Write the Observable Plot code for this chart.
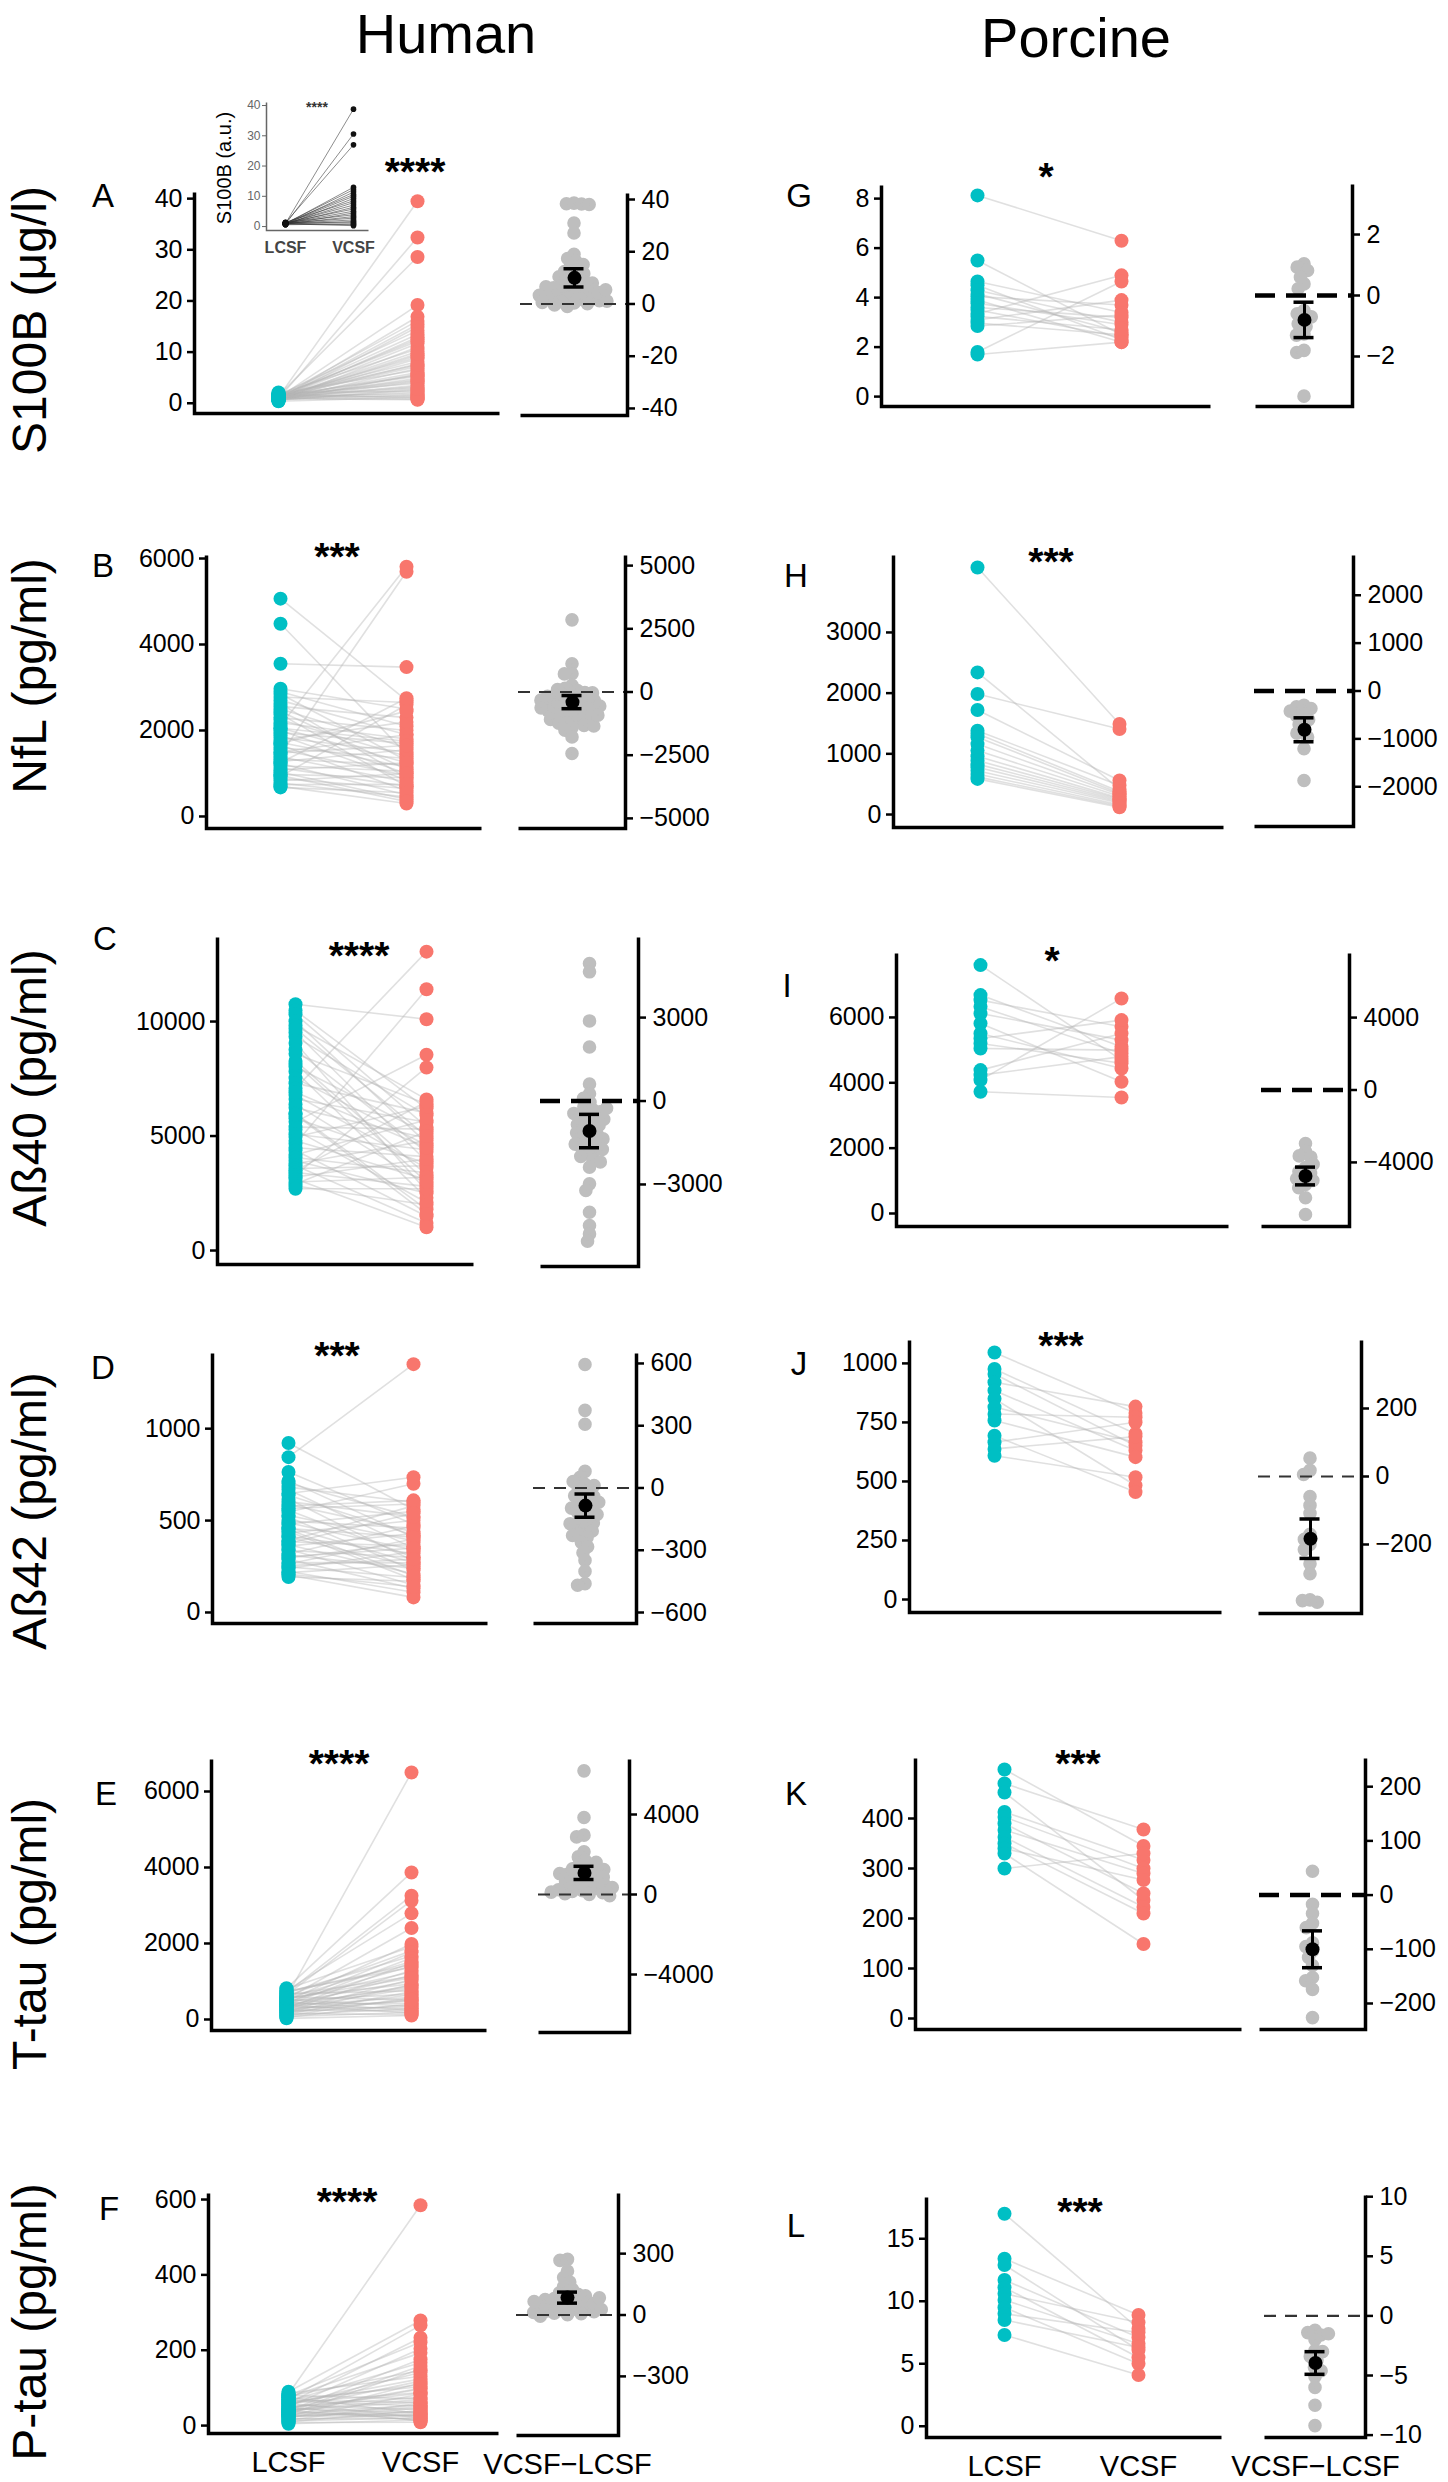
<!DOCTYPE html>
<html><head><meta charset="utf-8">
<script src="https://cdn.jsdelivr.net/npm/d3@7"></script>
<script src="https://cdn.jsdelivr.net/npm/@observablehq/plot@0.6"></script>
<style>
body{margin:0;background:#fff;}
#fig{position:relative;width:1448px;height:2482px;overflow:hidden;background:#fff;font-family:"Liberation Sans",Arial,Helvetica,sans-serif;color:#000;}
.t{position:absolute;white-space:nowrap;line-height:1;transform:translate(-50%,-50%);}
.rot{transform:translate(-50%,-50%) rotate(-90deg);}
.plot{position:absolute;line-height:0;}
</style></head><body><div id="fig"></div><script>
// ---------- categories ----------
const groups = ["LCSF", "VCSF"];
const diffLabel = "VCSF−LCSF";

// ---------- Human S100B (µg/l) ----------
const hS100B_L = [1.2,0.9,1.5,1.1,0.8,1.3,1.0,0.7,1.6,1.2,0.9,1.4,1.0,0.6,1.8,1.1,0.9,1.3,0.8,1.5,1.0,1.2,0.7,1.9,1.1,0.5,1.4,1.0,1.2,0.8,1.6,0.9,1.3,1.1,0.6,2.1,1.0,1.4,0.8,1.2,0.4,1.7,1.0,0.9,1.3,1.1,0.7,1.5,1.0,1.2];
const hS100B_V = [39.5,32.4,28.6,19.2,16.9,16.1,15.4,14.9,14.2,13.5,12.9,12.1,11.7,11.0,10.6,10.1,9.4,9.0,8.7,8.1,7.7,7.2,6.8,6.5,6.0,5.7,5.3,4.9,4.6,4.2,3.9,3.5,3.2,3.0,2.6,2.3,2.1,1.8,1.6,1.4,1.2,1.0,0.8,0.7,5.5,4.4,2.8,7.5,9.7,12.5];
const hS100B_D = [38.6,38.4,38.3,38.1,31.0,27.2,19.0,17.4,16.2,15.1,14.3,13.0,12.4,11.6,11.1,10.4,9.7,9.1,8.4,8.0,7.3,6.9,6.2,5.8,5.1,4.7,4.0,3.6,3.1,2.6,2.2,1.8,1.3,0.9,0.4,0.1,-0.4,-0.9,2.9,4.4,6.6,1.1,3.3,0.6,5.4];
const hS100B_S = [10, 3.5];   // mean, SE
// inset S100B (a.u.)
const inset_L = [1.0,0.8,1.3,0.9,1.1,0.7,1.2,1.0,0.6,1.4,0.9,1.1,0.8,1.2,1.0,0.7,1.3,0.9,1.1,1.0,0.8,1.2,0.6,1.0,0.9];
const inset_V = [38.8,30.6,27.0,13.0,12.2,11.4,10.6,10.0,9.3,8.5,7.9,7.1,6.4,5.8,5.1,4.5,3.9,3.3,2.8,2.2,1.7,1.3,0.9,0.6,0.3];

// ---------- Human NfL (pg/ml) ----------
const hNfL_L = [5066,4484,3552,2970,2900,2850,2780,2700,2620,2560,2500,2440,2380,2300,2250,2180,2120,2060,2000,1950,1890,1830,1780,1720,1660,1600,1550,1500,1440,1390,1330,1280,1230,1180,1130,1080,1030,980,930,880,830,780,740,700,676,1700,2050,1250,950,1480];
const hNfL_V = [2700,1450,3474,2500,2100,1300,2650,1900,900,2300,1600,1100,700,2000,1400,1800,5809,1250,1000,1700,850,1500,2200,1150,600,1350,950,1900,5692,800,1200,1550,500,1050,700,1250,400,900,2600,650,1000,450,750,300,550,2450,1750,2750,350,1650];
const hNfL_D = [2855,1118,724,716,263,142,55,-18,-85,-140,-212,-236,-310,-342,-395,-441,-468,-530,-552,-610,-655,-690,-745,-812,-838,-905,-960,-990,-1062,-1090,-1160,-1215,-1238,-1320,-1345,-1410,-1513,-1776,-2434,96,-35,-171,-322,-628,-915];
const hNfL_S = [-400, 260];

// ---------- Human Aß40 (pg/ml) ----------
const hAb40_L = [10756,10480,10320,10010,9830,9520,9340,9060,8770,8590,8280,8040,7820,7530,7310,7080,6790,6620,6380,6230,5990,5780,5620,5390,5270,5080,4960,4790,4660,4490,4370,4180,4060,3920,3790,3710,3580,3490,3410,3290,3210,3120,2990,2910,2820,2700,6910,8160,9690,5940];
const hAb40_V = [10102,6200,5400,4700,6600,3900,5900,2600,4300,6400,3300,5100,2300,4600,6000,13052,3600,5600,2900,4900,1800,3800,8547,5300,2100,4400,6300,3100,11410,4100,1500,5700,3400,2500,4800,1200,3700,6500,2800,7994,4000,1017,3200,5200,2000,2700,4500,3000,5000,1600];
const hAb40_D = [4946,4646,2880,1944,612,264,95,-48,-210,-305,-388,-512,-590,-683,-795,-870,-1010,-1093,-1187,-1320,-1395,-1480,-1610,-1690,-1785,-1905,-1990,-2110,-2190,-2377,-2977,-3217,-3997,-4477,-4777,-5041,-655,-842,-1145,-1362,-1548,-1740,-446,-262];
const hAb40_S = [-1080, 600];

// ---------- Human Aß42 (pg/ml) ----------
const hAb42_L = [922,845,764,682,668,647,638,617,603,588,579,556,547,528,519,497,488,481,463,457,440,433,415,409,391,385,368,361,344,337,319,312,296,289,271,265,248,241,223,217,204,193,703,716,566,452,377,303,255,208];
const hAb42_V = [560,1351,480,600,350,736,420,280,520,440,610,300,700,390,230,460,340,550,270,410,180,500,320,250,580,360,210,430,150,300,470,240,380,130,270,400,190,330,110,260,82,170,520,410,590,200,540,350,290,140];
const hAb42_D = [595,374,307,80,52,18,3,-14,-33,-41,-62,-78,-88,-107,-118,-136,-149,-168,-177,-196,-207,-224,-238,-262,-283,-312,-349,-402,-461,-469,12,-38,-97,-128,-172,-229,31,-69];
const hAb42_S = [-85, 56];

// ---------- Human T-tau (pg/ml) ----------
const hTtau_L = [587,820,700,650,760,540,480,800,620,420,700,380,560,300,460,740,260,520,350,640,220,440,580,180,400,300,680,140,500,240,360,100,600,280,420,60,200,520,330,120,460,250,80,380,160,30,720,340,550,200];
const hTtau_V = [6500,3870,3257,3126,2793,2408,1988,1915,1806,1762,1671,1615,1528,1490,1407,1372,1289,1251,1166,1131,1052,1013,938,912,843,808,749,731,668,652,587,571,509,493,428,413,362,348,302,287,243,226,184,167,126,105,1446,892,1094,516];
const hTtau_D = [6183,3850,2967,2880,2133,1880,1712,1490,1405,1288,1215,1090,1012,905,815,690,612,488,395,310,195,148,92,45,8,-62,1605,1246,860,642,455,240,1043,352,118];
const hTtau_S = [1080, 330];

// ---------- Human P-tau (pg/ml) ----------
const hPtau_L = [84,90,70,60,80,50,75,40,65,30,55,85,45,25,70,35,60,20,50,80,40,15,65,30,55,10,45,75,25,35,60,18,40,50,8,28,68,38,22,58,12,48,33,78,5,42,26,63,16,36];
const hPtau_V = [585,279,266,233,221,204,193,176,167,150,141,131,118,113,103,97,88,83,75,71,63,59,52,49,42,40,34,32,26,25,20,19,14,12,9,31,61,99,46,124,21,86,54,146,15,69,37,109,29,158];
const hPtau_D = [272,267,215,183,161,139,126,108,101,88,81,69,63,54,49,41,37,29,26,19,16,9,6,1,-6,94,76,57,42,27,12,66,84];
const hPtau_S = [85, 27];

// ---------- Porcine ----------
const pS100B_L = [8.13,5.5,4.65,4.5,4.3,4.15,4.04,3.9,3.77,3.6,3.5,3.35,3.24,3.1,2.97,2.85,1.8,1.7];
const pS100B_V = [6.3,2.5,3.4,2.3,3.0,2.6,3.7,2.2,2.9,3.2,2.4,4.9,2.7,3.9,2.5,3.3,4.65,2.2];
const pS100B_D = [1.04,0.93,0.82,0.38,0.22,-0.49,-0.6,-0.77,-0.93,-1.26,-1.3,-1.8,-1.87,-3.3,-0.7,-1.02,0.6];
const pS100B_S = [-0.8, 0.58];

const pNfL_L = [4070,2342,1986,1722,1382,1330,1273,1160,1053,960,889,830,779,720,669,620,587];
const pNfL_V = [1492,420,1410,560,480,380,350,330,300,270,250,230,210,190,160,140,120];
const pNfL_D = [-300,-330,-365,-474,-520,-600,-822,-880,-962,-1205,-1868,-700,-420];
const pNfL_S = [-810, 250];

const pAb40_L = [7602,6684,6531,6327,6122,5816,5510,5357,5204,5051,4388,4235,4082,3724];
const pAb40_V = [4694,5102,5714,4898,5306,4031,4439,5918,4600,5000,5510,4800,6582,3551];
const pAb40_D = [-2957,-3400,-3640,-3700,-4288,-4500,-4600,-5212,-5400,-5950,-6875,-4100,-4900,-5000];
const pAb40_S = [-4750, 490];

const pAb42_L = [1046,976,955,920,885,850,815,786,758,694,666,638,609];
const pAb42_V = [790,702,651,817,631,483,666,772,603,455,751,690,518];
const pAb42_D = [54,18,6,-59,-85,-108,-170,-185,-200,-215,-257,-286,-363,-365,-370];
const pAb42_S = [-183, 58];

const pTtau_L = [498,470,452,413,403,390,377,363,350,340,330,300];
const pTtau_V = [345,378,237,317,300,250,290,223,210,277,149,330];
const pTtau_D = [44,-17,-34,-52,-60,-88,-103,-115,-152,-158,-174,-226,-95,-130];
const pTtau_S = [-100, 34];

const pPtau_L = [17.0,13.4,12.9,11.7,11.1,10.6,10.1,9.5,9.0,8.5,7.3];
const pPtau_V = [7.8,8.9,6.1,7.1,5.5,8.3,6.6,5.0,7.5,6.3,4.1];
const pPtau_D = [-1.2,-1.4,-1.6,-2.0,-2.9,-3.4,-3.7,-4.3,-4.6,-5.1,-6.0,-7.5,-9.2,-3.0,-1.5];
const pPtau_S = [-3.95, 0.95];

// ---------- text ----------
const rowTitles = ["S100B (μg/l)", "NfL (pg/ml)", "Aß40 (pg/ml)", "Aß42 (pg/ml)", "T-tau (pg/ml)", "P-tau (pg/ml)"];
const colTitles = ["Human", "Porcine"];

// ---------- layout (pixels) ----------
const FONT = '"Liberation Sans", Arial, Helvetica, sans-serif';
const TEAL = "#00BFC4", SALMON = "#F8766D", GREY = "#bebebe";
const fig = document.getElementById("fig");

const panels = [
 {L:hS100B_L,V:hS100B_V,D:hS100B_D,S:hS100B_S,letter:["A",103,195],stars:["****",415,171],
  p:{axis:194,top:192,bottom:413,right:499,xL:278,xV:417,y:[-2,41.2],ticks:[0,10,20,30,40]},
  d:{left:520,axis:627,top:193,bottom:415,y:[-42.7,42.3],ticks:[-40,-20,0,20,40],thick:false,hyphen:true}},
 {L:pS100B_L,V:pS100B_V,D:pS100B_D,S:pS100B_S,letter:["G",799,195],stars:["*",1046,176],
  p:{axis:881,top:185,bottom:406,right:1210,xL:977,xV:1121,y:[-0.4,8.53],ticks:[0,2,4,6,8]},
  d:{left:1255,axis:1352,top:184,bottom:406,y:[-3.64,3.64],ticks:[-2,0,2],thick:true}},
 {L:hNfL_L,V:hNfL_V,D:hNfL_D,S:hNfL_S,letter:["B",103,565],stars:["***",337,556],
  p:{axis:206,top:555,bottom:828,right:481,xL:280,xV:406,y:[-280,6070],ticks:[0,2000,4000,6000]},
  d:{left:518,axis:625,top:555,bottom:828,y:[-5400,5400],ticks:[-5000,-2500,0,2500,5000],thick:false}},
 {L:pNfL_L,V:pNfL_V,D:pNfL_D,S:pNfL_S,letter:["H",796,575],stars:["***",1051,561],
  p:{axis:893,top:555,bottom:827,right:1223,xL:977,xV:1119,y:[-214,4268],ticks:[0,1000,2000,3000]},
  d:{left:1254,axis:1353,top:555,bottom:826,y:[-2830,2830],ticks:[-2000,-1000,0,1000,2000],thick:true}},
 {L:hAb40_L,V:hAb40_V,D:hAb40_D,S:hAb40_S,letter:["C",105,938],stars:["****",359,955],
  p:{axis:217,top:937,bottom:1264,right:473,xL:295,xV:426,y:[-610,13670],ticks:[0,5000,10000]},
  d:{left:540,axis:638,top:937,bottom:1266,y:[-5950,5880],ticks:[-3000,0,3000],thick:true}},
 {L:pAb40_L,V:pAb40_V,D:pAb40_D,S:pAb40_S,letter:["I",787,985],stars:["*",1052,960],
  p:{axis:896,top:953,bottom:1226,right:1228,xL:980,xV:1121,y:[-398,7957],ticks:[0,2000,4000,6000]},
  d:{left:1261,axis:1349,top:953,bottom:1226,y:[-7540,7540],ticks:[-4000,0,4000],thick:true}},
 {L:hAb42_L,V:hAb42_V,D:hAb42_D,S:hAb42_S,letter:["D",103,1367],stars:["***",337,1355],
  p:{axis:212,top:1353,bottom:1623,right:487,xL:288,xV:413,y:[-60,1409],ticks:[0,500,1000]},
  d:{left:533,axis:636,top:1353,bottom:1623,y:[-653,648],ticks:[-600,-300,0,300,600],thick:false}},
 {L:pAb42_L,V:pAb42_V,D:pAb42_D,S:pAb42_S,letter:["J",799,1363],stars:["***",1061,1345],
  p:{axis:909,top:1340,bottom:1612,right:1221,xL:994,xV:1135,y:[-55,1097],ticks:[0,250,500,750,1000]},
  d:{left:1258,axis:1361,top:1340,bottom:1613,y:[-403,400],ticks:[-200,0,200],thick:false}},
 {L:hTtau_L,V:hTtau_V,D:hTtau_D,S:hTtau_S,letter:["E",106,1793],stars:["****",339,1763],
  p:{axis:211,top:1759,bottom:2030,right:486,xL:286,xV:411,y:[-290,6842],ticks:[0,2000,4000,6000]},
  d:{left:538,axis:629,top:1759,bottom:2032,y:[-6900,6750],ticks:[-4000,0,4000],thick:false}},
 {L:pTtau_L,V:pTtau_V,D:pTtau_D,S:pTtau_S,letter:["K",796,1793],stars:["***",1078,1763],
  p:{axis:915,top:1758,bottom:2029,right:1241,xL:1004,xV:1143,y:[-22,520],ticks:[0,100,200,300,400]},
  d:{left:1259,axis:1365,top:1758,bottom:2029,y:[-248,252],ticks:[-200,-100,0,100,200],thick:true}},
 {L:hPtau_L,V:hPtau_V,D:hPtau_D,S:hPtau_S,letter:["F",109,2208],stars:["****",347,2201],xlabels:true,
  p:{axis:208,top:2193,bottom:2433,right:498,xL:288,xV:420,y:[-21,616],ticks:[0,200,400,600]},
  d:{left:516,axis:618,top:2193,bottom:2435,y:[-589,594],ticks:[-300,0,300],thick:false}},
 {L:pPtau_L,V:pPtau_V,D:pPtau_D,S:pPtau_S,letter:["L",796,2225],stars:["***",1080,2211],xlabels:true,
  p:{axis:926,top:2197,bottom:2437,right:1221,xL:1004,xV:1138,y:[-0.9,18.3],ticks:[0,5,10,15]},
  d:{left:1264,axis:1365,top:2195,bottom:2437,y:[-10.2,10.1],ticks:[-10,-5,0,5,10],thick:false}}
];

function place(svg, left, top) {
  const w = document.createElement("div");
  w.className = "plot";
  w.style.left = left + "px"; w.style.top = top + "px";
  w.appendChild(svg);
  fig.appendChild(w);
}
function text(str, x, y, css = {}, cls = "t") {
  const d = document.createElement("div");
  d.className = cls; d.textContent = str;
  d.style.left = x + "px"; d.style.top = y + "px";
  Object.assign(d.style, css);
  fig.appendChild(d);
}
const baseStyle = {fontFamily: FONT, background: "transparent", overflow: "visible", maxWidth: "none", color: "#000"};

function pairedPlot(L, V, G, o = {}) {
  const mL = o.mL ?? 100, mR = 6, mT = 8, mB = o.xlabels ? 46 : 8;
  const fw = G.right - G.axis, fh = G.bottom - G.top;
  const W = fw + mL + mR, H = fh + mT + mB;
  const x0 = G.axis - mL, y0 = G.top - mT;
  const rows = L.flatMap((v, i) => [{id: i, group: groups[0], value: v}, {id: i, group: groups[1], value: V[i]}]);
  const ac = o.axisColor ?? "#000";
  const marks = [
    Plot.line(rows, {x: "group", y: "value", z: "id", stroke: o.lineStroke ?? "#b4b4b4", strokeOpacity: o.lineOpacity ?? 0.42, strokeWidth: o.lineWidth ?? 1.6}),
    Plot.dot(rows, {x: "group", y: "value", r: o.r ?? 7, fill: o.dotFill ?? "group"}),
    Plot.axisY({ticks: G.ticks, tickSize: o.tickSize ?? 7, tickPadding: o.tickPadding ?? 5, fontSize: o.fontSize ?? 25, strokeWidth: o.tickWidth ?? 2.5, color: ac, tickFormat: d => String(d)}),
    Plot.frame({stroke: ac, strokeWidth: o.frameWidth ?? 3.5, strokeDasharray: `0,${fw + fh},${fw + fh}`})
  ];
  if (o.xlabels) marks.push(Plot.axisX({tickSize: 0, tickPadding: o.xPad ?? 18, fontSize: o.xFont ?? 29, fontWeight: o.xWeight ?? "normal", color: o.xColor ?? "#000"}));
  const xs = {type: "point", domain: groups, range: [G.xL - x0, G.xV - x0], padding: 0, label: null};
  if (!o.xlabels) xs.axis = null;
  const svg = Plot.plot({
    width: W, height: H, marginLeft: mL, marginRight: mR, marginTop: mT, marginBottom: mB,
    style: baseStyle, x: xs, y: {domain: G.y, label: null},
    color: {domain: groups, range: [TEAL, SALMON]},
    marks
  });
  place(svg, x0, y0);
}

function diffPlot(D, S, G, o = {}) {
  const mL = 6, mR = 110, mT = 8, mB = o.xlabels ? 46 : 8;
  const fw = G.axis - G.left, fh = G.bottom - G.top;
  const W = fw + mL + mR, H = fh + mT + mB;
  const x0 = G.left - mL, y0 = G.top - mT;
  const [mean, se] = S;
  const minus = G.hyphen ? "-" : "−";
  const capInset = fw / 2 - 10;
  const marks = [
    Plot.dot(D, Plot.dodgeX({anchor: "middle", padding: 0, y: d => d, r: 3.8, fill: GREY, stroke: GREY, strokeWidth: 6})),
    Plot.ruleY([0], {stroke: G.thick ? "#000" : "#333", strokeWidth: G.thick ? 4.5 : 2.2, strokeDasharray: G.thick ? "20,11" : "12,9"}),
    Plot.ruleX([mean], {x: () => diffLabel, y1: mean - se, y2: mean + se, stroke: "#000", strokeWidth: 3}),
    Plot.ruleY([mean - se, mean + se], {y: d => d, insetLeft: capInset, insetRight: capInset, stroke: "#000", strokeWidth: 3.5}),
    Plot.dot([mean], {x: () => diffLabel, y: d => d, r: 7, fill: "#000"}),
    Plot.axisY({anchor: "right", ticks: G.ticks, tickSize: 7, tickPadding: 7, fontSize: 25, strokeWidth: 2.5, tickFormat: d => d < 0 ? minus + Math.abs(d) : String(d)}),
    Plot.frame({stroke: "#000", strokeWidth: 3.5, strokeDasharray: `0,${fw},${fh + fw},${fh}`})
  ];
  if (o.xlabels) marks.push(Plot.axisX({tickSize: 0, tickPadding: 18, fontSize: 29}));
  const xs = {type: "point", domain: [diffLabel], padding: 0, label: null};
  if (!o.xlabels) xs.axis = null;
  const svg = Plot.plot({
    width: W, height: H, marginLeft: mL, marginRight: mR, marginTop: mT, marginBottom: mB,
    style: baseStyle, x: xs, y: {domain: G.y, label: null}, marks
  });
  place(svg, x0, y0);
}

// ---------- draw ----------
panels.forEach(P => {
  pairedPlot(P.L, P.V, P.p, {xlabels: P.xlabels});
  diffPlot(P.D, P.S, P.d, {xlabels: P.xlabels});
  text(P.letter[0], P.letter[1], P.letter[2], {fontSize: "33px"});
  text(P.stars[0], P.stars[1], P.stars[2], {fontSize: "39px", fontWeight: "bold"});
});

// inset in panel A
pairedPlot(inset_L, inset_V,
  {axis: 266, top: 102, bottom: 230, right: 368, xL: 285, xV: 353, y: [-1.3, 41], ticks: [0, 10, 20, 30, 40]},
  {mL: 40, xlabels: true, r: 2.8, dotFill: "#111", lineStroke: "#333", lineOpacity: 0.7, lineWidth: 0.8,
   tickSize: 4, tickPadding: 2, fontSize: 12, tickWidth: 1, axisColor: "#666", frameWidth: 1.5,
   xPad: 11, xFont: 16, xWeight: "bold", xColor: "#444"});
text("S100B (a.u.)", 224, 168, {fontSize: "20px"}, "t rot");
text("****", 317, 107, {fontSize: "14px", fontWeight: "bold", color: "#333"});

// column and row titles
text(colTitles[0], 446, 34, {fontSize: "56px"});
text(colTitles[1], 1076, 38, {fontSize: "56px"});
[320, 676, 1088, 1511, 1934, 2322].forEach((y, i) => text(rowTitles[i], 30, y, {fontSize: "48px"}, "t rot"));
</script></body></html>
